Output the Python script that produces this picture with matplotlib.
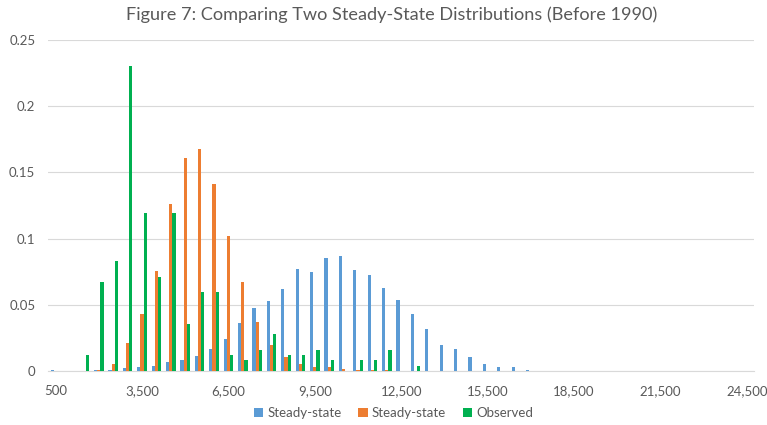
import numpy as np
import matplotlib.pyplot as plt

# income categories (every 500)
categories = list(range(500, 25000, 500))

steady_a = [0.0005, 0, 0, 0.0005, 0.0005, 0.002, 0.003, 0.004, 0.007, 0.008,
            0.011, 0.017, 0.024, 0.036, 0.0476, 0.053, 0.062, 0.077, 0.075, 0.085,
            0.087, 0.076, 0.0725, 0.0625, 0.054, 0.0433, 0.032, 0.0196, 0.0166, 0.0103,
            0.0055, 0.003, 0.003, 0.001, 0, 0, 0, 0, 0, 0,
            0, 0, 0, 0, 0, 0, 0, 0, 0]
steady_b = [0, 0, 0, 0.0005, 0.0055, 0.021, 0.043, 0.0755, 0.126, 0.161,
            0.168, 0.141, 0.102, 0.067, 0.037, 0.020, 0.0105, 0.0055, 0.0033, 0.003,
            0.0015, 0.0005, 0.0005, 0.0005, 0.0003, 0, 0, 0, 0, 0,
            0, 0, 0, 0, 0, 0, 0, 0, 0, 0,
            0, 0, 0, 0, 0, 0, 0, 0, 0]
observed = [0, 0, 0.012, 0.067, 0.083, 0.23, 0.119, 0.071, 0.119, 0.0355,
            0.0594, 0.0594, 0.012, 0.008, 0.016, 0.028, 0.012, 0.012, 0.016, 0.008,
            0, 0.008, 0.008, 0.016, 0, 0.004, 0, 0, 0, 0,
            0, 0, 0, 0, 0, 0, 0, 0, 0, 0,
            0, 0, 0, 0, 0, 0, 0, 0, 0]

series_names = ['Steady-state', 'Steady-state', 'Observed']
colors = ['#5B9BD5', '#ED7D31', '#00B050']

plt.rcParams['font.family'] = ['Lato', 'DejaVu Sans']
text_color = '#595959'

fig = plt.figure(figsize=(7.67, 4.25), dpi=100)
ax = fig.add_axes([0.0632, 0.127, 0.9198, 0.779])

x = np.arange(len(categories))
w = 1 / 4.5
for k, (vals, name, c) in enumerate(zip([steady_a, steady_b, observed], series_names, colors)):
    ax.bar(x + (k - 1) * w, vals, width=w, color=c, label=name, zorder=3)

ax.set_xlim(-0.5, len(categories) - 0.5)
ax.set_ylim(0, 0.25)
ax.set_yticks([0, 0.05, 0.1, 0.15, 0.2, 0.25])
ax.set_yticklabels(['0', '0.05', '0.1', '0.15', '0.2', '0.25'])
ticks = x[::6]
ax.set_xticks(ticks)
ax.set_xticklabels([f'{categories[i]:,}' for i in ticks])
ax.tick_params(axis='both', length=0, labelsize=9.5, colors=text_color)
ax.tick_params(axis='y', pad=9.5)
ax.tick_params(axis='x', pad=10)

ax.grid(axis='y', color='#D9D9D9', linewidth=0.8, zorder=0)
for s in ['top', 'right', 'left']:
    ax.spines[s].set_visible(False)
ax.spines['bottom'].set_color('#D9D9D9')
ax.spines['bottom'].set_linewidth(0.8)

title = fig.suptitle('Figure 7: Comparing Two Steady-State Distributions (Before 1990)',
                     x=0.511, y=0.985, fontsize=13, color=text_color)
# size the title so it spans about 530 px like the original
fig.canvas.draw()
tw = title.get_window_extent().width
title.set_fontsize(13 * 530 / tw)

fig.legend(loc='center', bbox_to_anchor=(0.513, 0.028), ncol=3, frameon=False,
           fontsize=9.5, labelcolor=text_color, handlelength=0.7, handleheight=0.7,
           handletextpad=0.3, columnspacing=1.3)

fig.savefig('out.png', dpi=100)
